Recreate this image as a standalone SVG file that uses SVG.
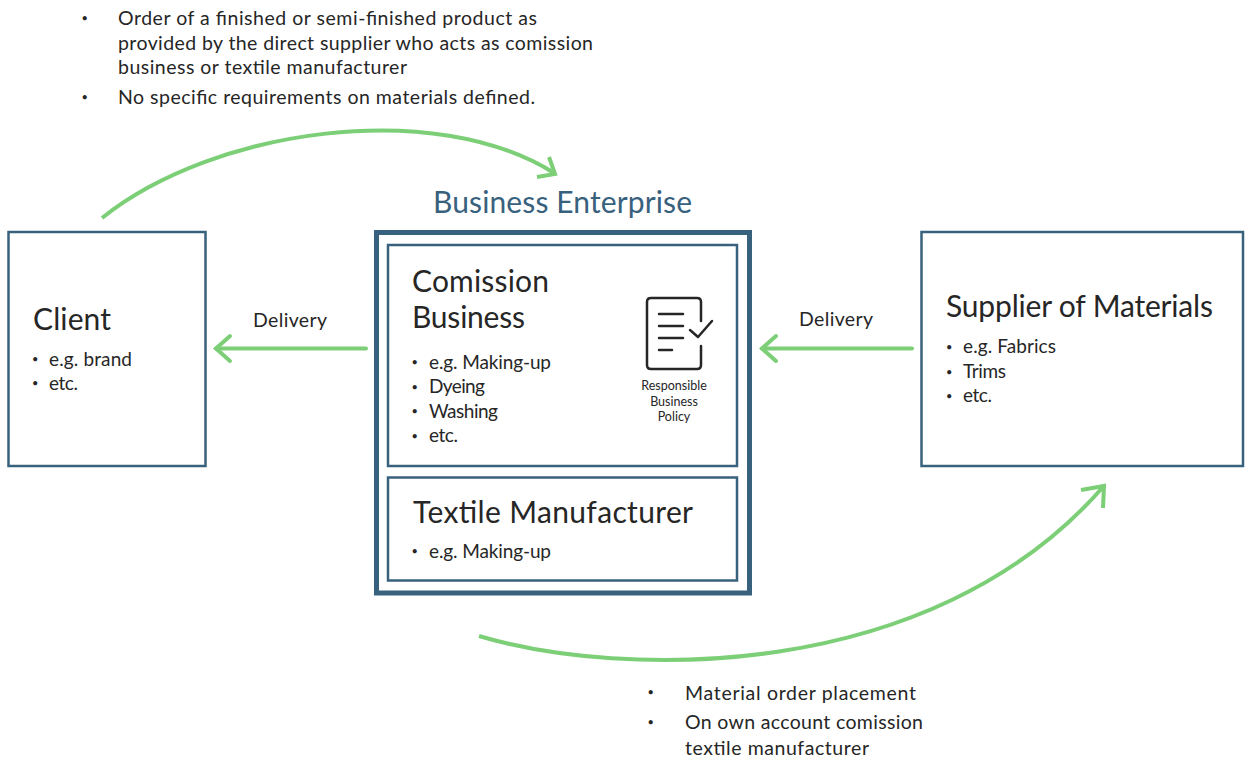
<svg xmlns="http://www.w3.org/2000/svg" width="1245" height="758" viewBox="0 0 1245 758">
<style>
text{font-family:"Lato","Noto Sans",sans-serif;fill:#262626}
.b{font-size:19px}
.n{font-size:19.5px}
.d{font-size:11px}
.h{font-size:30px}
.s{font-size:12.5px;text-anchor:middle}
.box{fill:#fff;stroke:#38617d;stroke-width:2.5}
.g{fill:none;stroke:#7ccf77;stroke-width:4}
.r{stroke-linecap:round}
</style>
<g id="connectors">
<path class="g" d="M102 218 C 215 128 435 98 554 173"/>
<path class="g" d="M549 157 L555 174 L537 177"/>
<path class="g r" d="M366 348.500 H216"/>
<path class="g r" d="M230 336 L216 348.500 L230 361"/>
<path class="g r" d="M912 348.500 H762"/>
<path class="g r" d="M776 336 L762 348.500 L776 361"/>
<path class="g" d="M479 636 C 620 678 930 685 1103 487"/>
<path class="g" d="M1081 490 L1104 486 L1103 508"/>
<text class="n" x="253" y="327" textLength="74">Delivery</text>
<text class="n" x="799" y="326" textLength="74">Delivery</text>
</g>
<g id="client">
<rect class="box" x="8.500" y="232" width="197" height="234"/>
<text class="h" x="33" y="330" textLength="78">Client</text>
<text class="d" x="32" y="363">•</text><text class="b" x="49" y="366" textLength="83">e.g. brand</text>
<text class="d" x="32" y="387">•</text><text class="b" x="49" y="390" textLength="29">etc.</text>
</g>
<g id="business-enterprise">
<text x="433" y="213" textLength="259" style="font-size:30px;fill:#38617d">Business Enterprise</text>
<rect x="376.500" y="232.500" width="373" height="360.500" fill="#fff" stroke="#38617d" stroke-width="5"/>
</g>
<g id="comission-business">
<rect class="box" x="388" y="245" width="349" height="221"/>
<text class="h" x="412" y="292" textLength="137">Comission</text>
<text class="h" x="412" y="328" textLength="113">Business</text>
<text class="d" x="411.500" y="366">•</text><text class="b" x="429" y="369" textLength="122">e.g. Making-up</text>
<text class="d" x="411.500" y="390.500">•</text><text class="b" x="429" y="393" textLength="56">Dyeing</text>
<text class="d" x="411.500" y="415">•</text><text class="b" x="429" y="418" textLength="69">Washing</text>
<text class="d" x="411.500" y="439.500">•</text><text class="b" x="429" y="442" textLength="29">etc.</text>
<g id="policy-icon" fill="none" stroke="#262626" stroke-width="2.500" stroke-linecap="round" stroke-linejoin="round">
<path d="M701 321 V302 Q701 298 697 298 H651 Q647 298 647 302 V365 Q647 369 651 369 H697 Q701 369 701 365 V346"/>
<path d="M659 314 H683 M659 326 H683 M659 338 H683 M659 350 H672"/>
<path d="M690 330 L698 337 L712 321"/>
</g>
<text class="s" x="674" y="390">Responsible</text>
<text class="s" x="674" y="406">Business</text>
<text class="s" x="674" y="421">Policy</text>
</g>
<g id="textile-manufacturer">
<rect class="box" x="388" y="477.500" width="349" height="103"/>
<text class="h" x="413" y="523" textLength="280">Textile Manufacturer</text>
<text class="d" x="411.500" y="555">•</text><text class="b" x="429" y="558" textLength="122">e.g. Making-up</text>
</g>
<g id="supplier">
<rect class="box" x="921.500" y="232" width="321.500" height="234"/>
<text class="h" x="946" y="317" textLength="267">Supplier of Materials</text>
<text class="d" x="946" y="350.500">•</text><text class="b" x="963" y="353" textLength="93">e.g. Fabrics</text>
<text class="d" x="946" y="375.500">•</text><text class="b" x="963" y="378" textLength="43">Trims</text>
<text class="d" x="946" y="399.500">•</text><text class="b" x="963" y="402" textLength="29">etc.</text>
</g>
<g id="note-order">
<text class="d" x="81.500" y="21.500">•</text>
<text class="n" x="118" y="25" textLength="419">Order of a finished or semi-finished product as</text>
<text class="n" x="118" y="50" textLength="475">provided by the direct supplier who acts as comission</text>
<text class="n" x="118" y="74" textLength="289">business or textile manufacturer</text>
<text class="d" x="81.500" y="100.500">•</text>
<text class="n" x="118" y="104" textLength="417">No specific requirements on materials defined.</text>
</g>
<g id="note-material">
<text class="d" x="647.500" y="696">•</text>
<text class="n" x="685" y="700" textLength="231">Material order placement</text>
<text class="d" x="647.500" y="726">•</text>
<text class="n" x="685" y="729" textLength="238">On own account comission</text>
<text class="n" x="685" y="755" textLength="184">textile manufacturer</text>
</g>
</svg>
